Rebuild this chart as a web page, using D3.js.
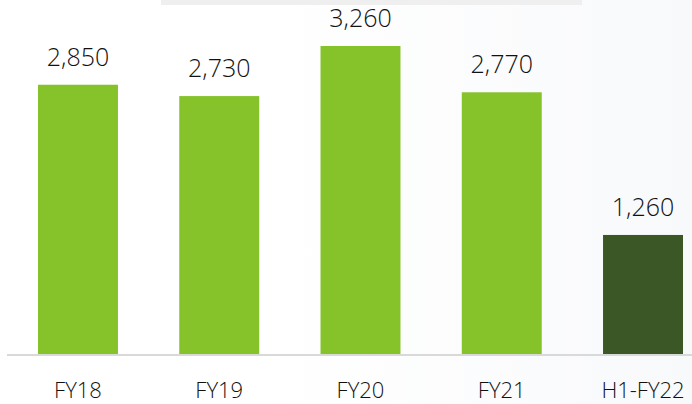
<!DOCTYPE html>
<html>
<head>
<meta charset="utf-8">
<script src="https://cdn.jsdelivr.net/npm/d3@7"></script>
<style>
  body { margin: 0; background: #fff; }
  svg { display: block; }
</style>
</head>
<body>
<div id="chart"></div>
<script>
// data
var categories = ["FY18", "FY19", "FY20", "FY21", "H1-FY22"];
var values = [2850, 2730, 3260, 2770, 1260];
var barColors = ["#86c22a", "#86c22a", "#86c22a", "#86c22a", "#3b5725"];

var width = 692, height = 404;
var baseline = 354;

var svg = d3.select("#chart")
  .append("svg")
    .attr("width", width)
    .attr("height", height);

// faint backdrop like the slide behind the chart
var grad = svg.append("defs").append("linearGradient")
    .attr("id", "bg")
    .attr("x1", "0%").attr("x2", "100%")
grad.append("stop").attr("offset", "40%").attr("stop-color", "#ffffff")
grad.append("stop").attr("offset", "100%").attr("stop-color", "#f8f9fb")
svg.append("rect")
    .attr("width", width).attr("height", height)
    .attr("fill", "url(#bg)")

svg.append("rect")
    .attr("x", 161).attr("y", 0)
    .attr("width", 421).attr("height", 5)
    .attr("fill", "#efefef")

var x = d3.scaleBand()
    .domain(categories)
    .range([9.75, 711.25])
    .paddingInner(0.434)
    .paddingOuter(0.2)

var y = d3.scaleLinear()
    .domain([0, 3750])
    .range([baseline, baseline - 3750 * 308 / 3260])

var data = categories.map(function(c, i) { return {cat: c, value: values[i], color: barColors[i]}; })

svg.append("g")
  .selectAll("rect")
  .data(data)
  .enter()
  .append("rect")
    .attr("x", function(d) { return x(d.cat); })
    .attr("y", function(d) { return y(d.value); })
    .attr("width", x.bandwidth())
    .attr("height", function(d) { return baseline - y(d.value); })
    .attr("fill", function(d) { return d.color; })

// baseline axis
svg.append("line")
    .attr("x1", 7).attr("x2", width)
    .attr("y1", baseline + 1).attr("y2", baseline + 1)
    .attr("stroke", "#d9d9d9")
    .attr("stroke-width", 2)

// value labels
svg.append("g")
  .selectAll("text")
  .data(data)
  .enter()
  .append("text")
    .attr("x", function(d) { return x(d.cat) + x.bandwidth() / 2; })
    .attr("y", function(d) { return y(d.value) - 19; })
    .attr("text-anchor", "middle")
    .style("font-family", "'Open Sans', sans-serif")
    .style("font-size", "25px")
    .style("font-weight", 300)
    .style("fill", "#111")
    .text(function(d) { return d3.format(",")(d.value); })

// category labels
svg.append("g")
  .selectAll("text")
  .data(data)
  .enter()
  .append("text")
    .attr("x", function(d) { return x(d.cat) + x.bandwidth() / 2; })
    .attr("y", 398)
    .attr("text-anchor", "middle")
    .style("font-family", "'Open Sans', sans-serif")
    .style("font-size", "22px")
    .style("font-weight", 300)
    .style("fill", "#111")
    .text(function(d) { return d.cat; })
</script>
</body>
</html>
